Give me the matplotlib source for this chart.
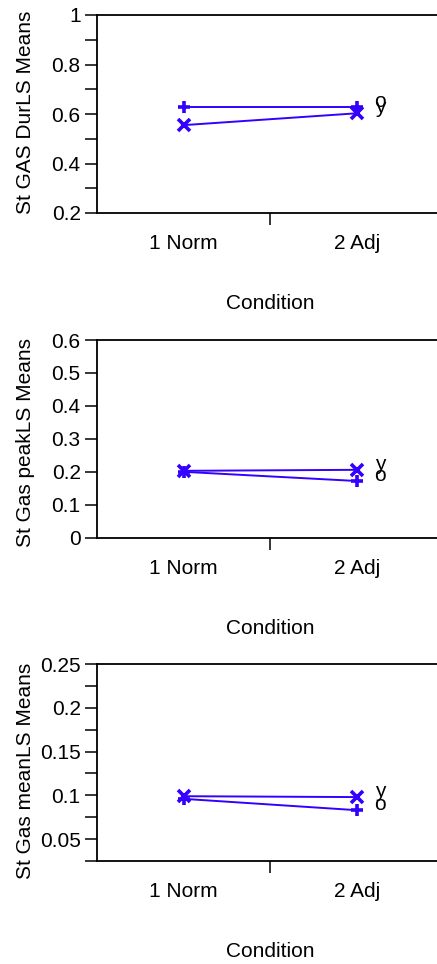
import matplotlib
matplotlib.use("Agg")
import matplotlib.pyplot as plt
from matplotlib.ticker import FixedLocator

plt.rcParams['font.family'] = ['Liberation Sans', 'DejaVu Sans']

conditions = ["1 Norm", "2 Adj"]
xlabel = "Condition"

ylabels = ["St GAS DurLS Means", "St Gas peakLS Means", "St Gas meanLS Means"]

# series "o" (plus marker) and series "y" (x marker)
o_vals = [[0.628, 0.628], [0.200, 0.172], [0.096, 0.083]]
y_vals = [[0.555, 0.603], [0.203, 0.206], [0.099, 0.098]]
series_names = ["o", "y"]

ylims = [(0.2, 1.0), (0.0, 0.6), (0.025, 0.25)]
major_ticks = [[0.2, 0.4, 0.6, 0.8, 1.0],
               [0.0, 0.1, 0.2, 0.3, 0.4, 0.5, 0.6],
               [0.05, 0.1, 0.15, 0.2, 0.25]]
major_labels = [["0.2", "0.4", "0.6", "0.8", "1"],
                ["0", "0.1", "0.2", "0.3", "0.4", "0.5", "0.6"],
                ["0.05", "0.1", "0.15", "0.2", "0.25"]]
minor_ticks = [[0.3, 0.5, 0.7, 0.9], [], [0.025, 0.075, 0.125, 0.175, 0.225]]

W, H = 437, 964
fig = plt.figure(figsize=(W / 100, H / 100), dpi=100)

color = '#3300FF'
left = 96.7 / W
width = (444 - 96.7) / W
panels_px = [(15, 213), (340, 537.7), (664, 861)]
ylabel_y = [0.51, 0.48, 0.46]

for i, (top, bot) in enumerate(panels_px):
    ax = fig.add_axes([left, 1 - bot / H, width, (bot - top) / H])
    xs = [1, 2]
    ax.plot(xs, o_vals[i], color=color, lw=1.4, marker='+', ms=9, mew=2.6, clip_on=False)
    ax.plot(xs, y_vals[i], color=color, lw=1.4, marker='x', ms=8, mew=2.6, clip_on=False)
    ax.text(2.1, o_vals[i][1], series_names[0], fontsize=15, ha='left', va='baseline')
    ax.text(2.1, y_vals[i][1], series_names[1], fontsize=15, ha='left', va='baseline')

    ax.set_xlim(0.5, 2.5)
    ax.set_ylim(*ylims[i])
    ax.set_xticks(xs)
    ax.set_xticklabels(conditions)
    ax.xaxis.set_minor_locator(FixedLocator([1.5]))
    ax.tick_params(axis='x', which='major', length=0, pad=15, labelsize=15)
    ax.tick_params(axis='x', which='minor', length=8.5, width=1.1, direction='out')

    ax.set_yticks(major_ticks[i])
    ax.set_yticklabels(major_labels[i])
    ax.yaxis.set_minor_locator(FixedLocator(minor_ticks[i]))
    ax.tick_params(axis='y', which='both', length=8.5, width=1.1, direction='out', pad=3, labelsize=15)

    for s in ['left', 'bottom', 'top']:
        ax.spines[s].set_linewidth(1.3)
    ax.spines['right'].set_visible(False)

    ax.set_xlabel(xlabel, fontsize=15)
    ax.xaxis.set_label_coords(0.5, -0.41)
    ax.set_ylabel(ylabels[i], fontsize=15)
    ax.yaxis.label.set_va('center')
    ax.yaxis.set_label_coords(-0.205, ylabel_y[i])

fig.savefig("out.png", dpi=100)
